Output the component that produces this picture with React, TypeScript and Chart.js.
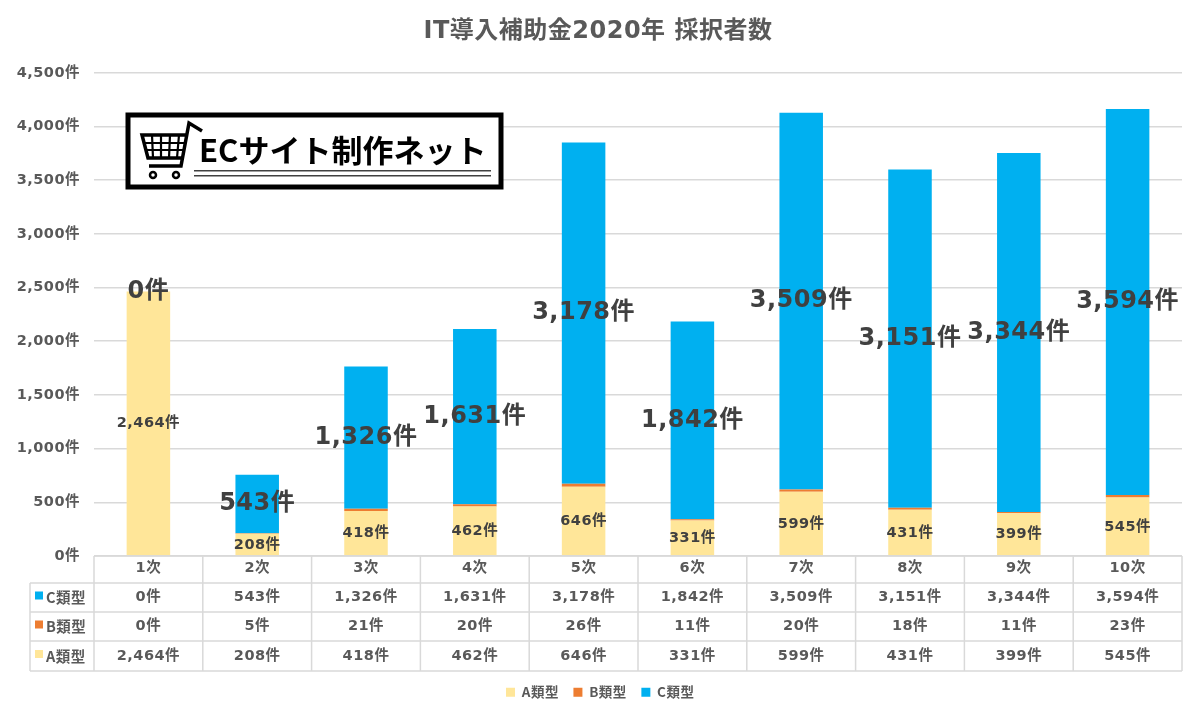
import React, { useEffect, useRef } from "react";
import { Chart, registerables } from "chart.js";

Chart.register(...registerables);

const categories = ["1次", "2次", "3次", "4次", "5次", "6次", "7次", "8次", "9次", "10次"];
const typeA = [2464, 208, 418, 462, 646, 331, 599, 431, 399, 545];
const typeB = [0, 5, 21, 20, 26, 11, 20, 18, 11, 23];
const typeC = [0, 543, 1326, 1631, 3178, 1842, 3509, 3151, 3344, 3594];
const titleText = "IT導入補助金2020年 採択者数";
const logoText = "ECサイト制作ネット";

const colorA = "#FFE699";
const colorB = "#ED7D31";
const colorC = "#00B0F0";
const textColor = "#595959";
const gridColor = "#D9D9D9";
const FONT = '"DejaVu Sans", "Noto Sans CJK JP", sans-serif';
const CJK = '"Noto Sans CJK JP", sans-serif';

const fmt = (n: number) => `${n.toLocaleString("en-US")}件`;

const rows = [
  { name: "C類型", color: colorC, values: typeC },
  { name: "B類型", color: colorB, values: typeB },
  { name: "A類型", color: colorA, values: typeA },
];

const spacingPlugin = {
  id: "spacing",
  beforeDraw(chart: any) {
    chart.ctx.letterSpacing = "0.5px";
  },
};

const tablePlugin = {
  id: "table",
  afterDatasetsDraw(chart: any) {
    const { ctx, chartArea, scales } = chart;
    const { left, right, bottom } = chartArea;
    const colW = (right - left) / categories.length;
    const tableLeft = left - 64;
    const rowY = [bottom, bottom + 27, bottom + 56, bottom + 85, bottom + 115];
    ctx.save();
    ctx.strokeStyle = gridColor;
    ctx.lineWidth = 1.5;
    ctx.beginPath();
    rowY.forEach((y, i) => {
      ctx.moveTo(i === 0 ? left : tableLeft, y);
      ctx.lineTo(right, y);
    });
    for (let i = 0; i <= categories.length; i++) {
      ctx.moveTo(left + i * colW, bottom);
      ctx.lineTo(left + i * colW, rowY[4]);
    }
    ctx.moveTo(tableLeft, rowY[1]);
    ctx.lineTo(tableLeft, rowY[4]);
    ctx.stroke();
    ctx.textBaseline = "middle";
    rows.forEach((row, r) => {
      const cy = (rowY[r + 1] + rowY[r + 2]) / 2;
      ctx.fillStyle = row.color;
      ctx.fillRect(tableLeft + 5, cy - 6, 8, 8);
      ctx.fillStyle = textColor;
      ctx.textAlign = "left";
      ctx.font = `bold 14.5px ${CJK}`;
      ctx.fillText(row.name, tableLeft + 16, cy);
      ctx.textAlign = "center";
      ctx.font = `bold 14.5px ${FONT}`;
      row.values.forEach((v, i) => {
        ctx.fillText(fmt(v), scales.x.getPixelForValue(i), cy);
      });
    });
    ctx.restore();
  },
};

const labelPlugin = {
  id: "barLabels",
  afterDatasetsDraw(chart: any) {
    const { ctx, scales } = chart;
    ctx.save();
    ctx.textAlign = "center";
    ctx.textBaseline = "middle";
    ctx.fillStyle = "#404040";
    categories.forEach((_, i) => {
      const x = scales.x.getPixelForValue(i);
      const aMid = scales.y.getPixelForValue(typeA[i] / 2);
      ctx.font = `bold 14.5px ${FONT}`;
      ctx.fillText(fmt(typeA[i]), x, aMid);
      const base = typeA[i] + typeB[i];
      const cMid = scales.y.getPixelForValue(base + typeC[i] / 2);
      ctx.font = `bold 24px ${FONT}`;
      ctx.fillText(fmt(typeC[i]), x, cMid);
    });
    ctx.restore();
  },
};

const logoPlugin = {
  id: "logo",
  afterDraw(chart: any) {
    const { ctx } = chart;
    ctx.save();
    ctx.fillStyle = "#FFFFFF";
    ctx.fillRect(126, 113, 377, 76);
    ctx.strokeStyle = "#000000";
    ctx.lineWidth = 5;
    ctx.strokeRect(128, 115, 373, 72);
    // cart icon
    ctx.lineWidth = 3.5;
    ctx.lineJoin = "miter";
    ctx.beginPath();
    ctx.moveTo(202, 131);
    ctx.lineTo(189, 123);
    ctx.lineTo(181, 166);
    ctx.lineTo(149, 166);
    ctx.moveTo(187, 135);
    ctx.lineTo(142, 135);
    ctx.lineTo(148, 158);
    ctx.lineTo(184, 158);
    ctx.stroke();
    ctx.lineWidth = 2.2;
    ctx.beginPath();
    [152, 161, 170, 179].forEach((x, i) => {
      ctx.moveTo(x, 135);
      ctx.lineTo(x + 1 - i, 158);
    });
    ctx.moveTo(144, 143);
    ctx.lineTo(186, 143);
    ctx.moveTo(146, 150);
    ctx.lineTo(185, 150);
    ctx.stroke();
    ctx.lineWidth = 2.5;
    [153, 176].forEach((x) => {
      ctx.beginPath();
      ctx.arc(x, 175, 3, 0, Math.PI * 2);
      ctx.stroke();
    });
    // text
    ctx.fillStyle = "#000000";
    ctx.font = `bold 31px ${CJK}`;
    ctx.letterSpacing = "0px";
    ctx.textAlign = "left";
    ctx.textBaseline = "middle";
    ctx.fillText(logoText, 199, 150);
    ctx.fillStyle = "#404040";
    ctx.fillRect(194, 170, 297, 1.5);
    ctx.fillRect(194, 175, 297, 1.5);
    ctx.restore();
  },
};

export default function App() {
  const ref = useRef<HTMLCanvasElement>(null);
  useEffect(() => {
    document.body.style.margin = "0";
    const chart = new Chart(ref.current!, {
      type: "bar",
      data: {
        labels: categories,
        datasets: [
          { label: "A類型", data: typeA, backgroundColor: colorA, stack: "s" },
          { label: "B類型", data: typeB, backgroundColor: colorB, stack: "s" },
          { label: "C類型", data: typeC, backgroundColor: colorC, stack: "s" },
        ],
      },
      options: {
        responsive: false,
        animation: false,
        layout: { padding: { left: 14, right: 18, top: 0, bottom: 9 } },
        datasets: { bar: { categoryPercentage: 1, barPercentage: 0.4 } },
        plugins: {
          title: {
            display: true,
            text: titleText,
            color: textColor,
            font: { family: FONT, size: 24, weight: "bold" },
            padding: { top: 17, bottom: 27 },
          },
          legend: {
            position: "bottom",
            labels: {
              boxWidth: 9,
              boxHeight: 9,
              color: textColor,
              padding: 14.5,
              font: { family: CJK, size: 13.5, weight: "bold" },
            },
          },
          tooltip: { enabled: false },
        },
        scales: {
          x: {
            stacked: true,
            grid: { display: false, drawTicks: false },
            border: { display: false },
            ticks: { color: textColor, font: { family: FONT, size: 14.5, weight: "bold" }, padding: 4, maxRotation: 0 },
            afterFit(s: any) {
              s.height = 115;
            },
          },
          y: {
            stacked: true,
            min: 0,
            max: 4500,
            grid: { color: gridColor, lineWidth: 1.5, drawTicks: false },
            border: { display: false },
            ticks: {
              stepSize: 500,
              color: textColor,
              padding: 14,
              font: { family: FONT, size: 14.5, weight: "bold" },
              callback: (v: any) => fmt(Number(v)),
            },
            afterFit(s: any) {
              s.width = 80;
            },
          },
        },
      },
      plugins: [spacingPlugin, tablePlugin, labelPlugin, logoPlugin],
    } as any);
    return () => chart.destroy();
  }, []);
  return <canvas ref={ref} width={1200} height={718} style={{ display: "block" }} />;
}
